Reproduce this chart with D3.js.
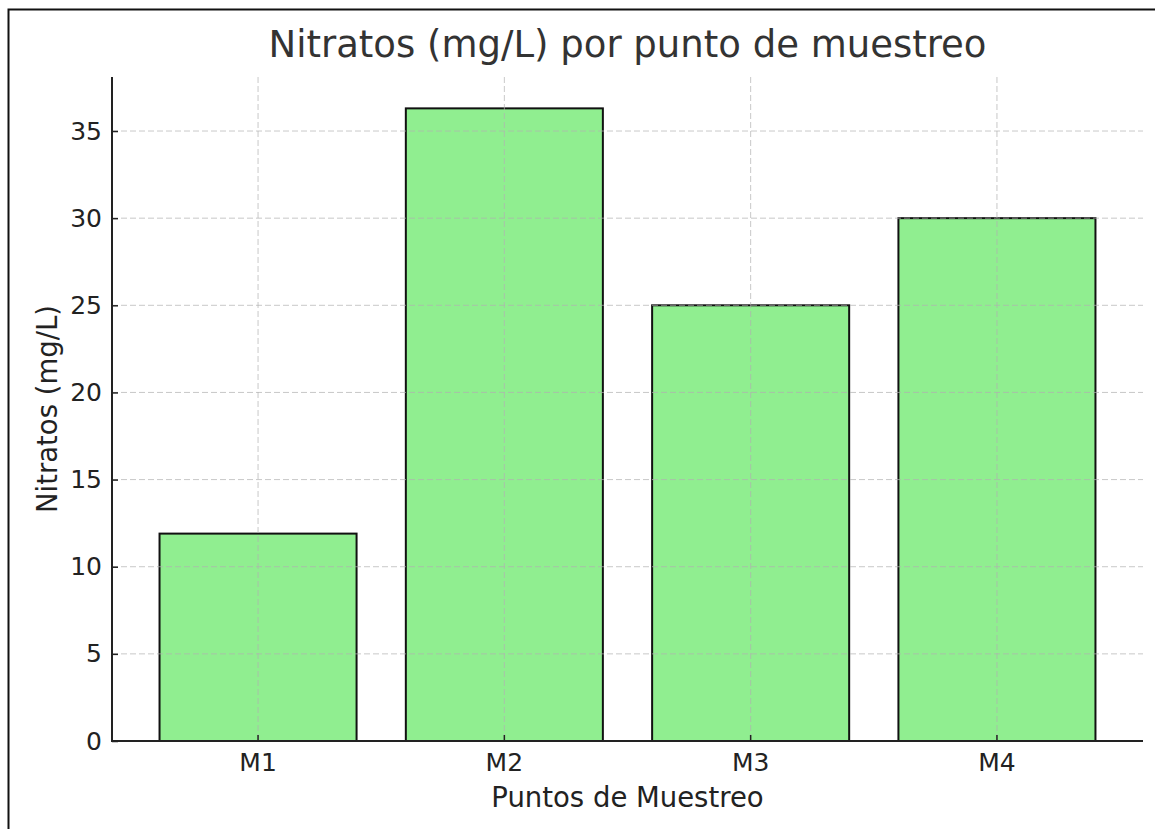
<!DOCTYPE html>
<html>
<head>
<meta charset="utf-8">
<script src="https://d3js.org/d3.v7.min.js"></script>
<style>
  body { margin: 0; background: #fff; }
  svg { display: block; font-family: "DejaVu Sans", sans-serif; }
</style>
</head>
<body>
<div id="chart"></div>
<script>
  // puntos de muestreo y nitratos medidos
  const puntos = ['M1', 'M2', 'M3', 'M4'];
  const nitratos = [11.9, 36.3, 25.0, 30.0];
  const yTicks = [0, 5, 10, 15, 20, 25, 30, 35];

  const W = 1155, H = 829;
  const mLeft = 112, mRight = 1143, mTop = 77, mBottom = 741;
  const FONT = '"DejaVu Sans", sans-serif';

  const svg = d3.select('#chart').append('svg')
      .attr('width', W)
      .attr('height', H);

  svg.append('rect').attr('width', W).attr('height', H).attr('fill', '#fff');

  // marco exterior (solo arriba e izquierda visibles)
  svg.append('path')
      .attr('d', `M8.5,${H} V9.5 H${W}`)
      .attr('fill', 'none')
      .attr('stroke', '#111')
      .attr('stroke-width', 2);

  const x = d3.scaleBand()
      .domain(puntos)
      .range([mLeft, mRight])
      .paddingInner(0.2)
      .paddingOuter(0.193);

  const y = d3.scaleLinear()
      .domain([0, 38.1])
      .range([mBottom, mTop]);

  // barras
  svg.append('g')
    .selectAll('rect')
    .data(puntos)
    .join('rect')
      .attr('x', d => x(d))
      .attr('y', (d, i) => y(nitratos[i]))
      .attr('width', x.bandwidth())
      .attr('height', (d, i) => y(0) - y(nitratos[i]))
      .attr('fill', '#90ee90')
      .attr('stroke', '#111')
      .attr('stroke-width', 2);

  // rejilla encima de las barras
  const grid = svg.append('g')
      .attr('stroke', '#b0b0b0')
      .attr('stroke-opacity', 0.7)
      .attr('stroke-dasharray', '6,3')
      .attr('stroke-width', 1);
  grid.selectAll('line.h')
    .data(yTicks.slice(1))
    .join('line')
      .attr('class', 'h')
      .attr('x1', mLeft).attr('x2', mRight)
      .attr('y1', d => y(d)).attr('y2', d => y(d));
  grid.selectAll('line.v')
    .data(puntos)
    .join('line')
      .attr('class', 'v')
      .attr('x1', d => x(d) + x.bandwidth() / 2)
      .attr('x2', d => x(d) + x.bandwidth() / 2)
      .attr('y1', mTop).attr('y2', mBottom);

  // ejes
  const yAxis = d3.axisLeft(y)
      .tickValues(yTicks)
      .tickSize(-6)
      .tickPadding(10)
      .tickFormat(d3.format('d'));
  const gy = svg.append('g')
      .attr('transform', `translate(${mLeft},0)`)
      .call(yAxis)
      .attr('font-family', FONT)
      .attr('font-size', 25);
  gy.select('.domain').remove();
  gy.selectAll('.tick line').attr('stroke', '#222').attr('stroke-width', 1.5);
  gy.selectAll('.tick text').attr('fill', '#222');

  const xAxis = d3.axisBottom(x)
      .tickSize(-6)
      .tickPadding(12);
  const gx = svg.append('g')
      .attr('transform', `translate(0,${mBottom})`)
      .call(xAxis)
      .attr('font-family', FONT)
      .attr('font-size', 25);
  gx.select('.domain').remove();
  gx.selectAll('.tick line').attr('stroke', '#222').attr('stroke-width', 1.5);
  gx.selectAll('.tick text').attr('fill', '#222');

  // espinas izquierda e inferior
  svg.append('path')
      .attr('d', `M${mLeft},${mTop} V${mBottom} H${mRight}`)
      .attr('fill', 'none')
      .attr('stroke', '#222')
      .attr('stroke-width', 2);

  // textos
  svg.append('text')
      .attr('x', (mLeft + mRight) / 2)
      .attr('y', 57)
      .attr('text-anchor', 'middle')
      .attr('fill', '#333')
      .style('font-size', '37px')
      .text('Nitratos (mg/L) por punto de muestreo');

  svg.append('text')
      .attr('x', (mLeft + mRight) / 2)
      .attr('y', 807)
      .attr('text-anchor', 'middle')
      .attr('fill', '#222')
      .style('font-size', '27.5px')
      .text('Puntos de Muestreo');

  svg.append('text')
      .attr('transform', `translate(57,${(mTop + mBottom) / 2}) rotate(-90)`)
      .attr('text-anchor', 'middle')
      .attr('fill', '#222')
      .style('font-size', '27.5px')
      .text('Nitratos (mg/L)');
</script>
</body>
</html>
